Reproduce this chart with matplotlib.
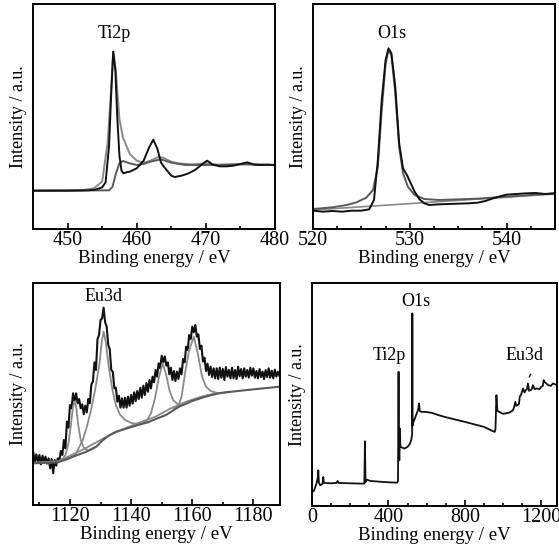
import numpy as np
import matplotlib
matplotlib.use("Agg")
import matplotlib.pyplot as plt
from matplotlib.ticker import MultipleLocator

# ---- Ti2p (intensity in arbitrary units) ----
ti_data_x = [445, 450, 453, 454, 455, 455.5, 456, 456.3, 456.6, 456.9, 457.2, 457.5, 457.8,
             458.1, 458.5, 459, 460, 461, 461.8, 462.4, 463, 463.5, 464, 465, 465.5, 466.5,
             467.5, 468.5, 469.5, 470.2, 471, 472, 473, 474, 475, 476, 477, 478, 479, 480]
ti_data_y = [115, 115, 116, 118, 125, 140, 250, 400, 532, 480, 330, 220, 175,
             167, 170, 172, 182, 205, 245, 268, 240, 200, 185, 160, 156, 160,
             167, 178, 195, 205, 193, 188, 188, 190, 195, 200, 193, 192, 193, 192]
ti_env_x = [445, 452, 453.8, 455, 455.8, 456.3, 456.6, 457, 457.5, 458, 459, 460, 461, 462,
            463, 463.8, 465, 466, 468, 470, 472, 476, 480]
ti_env_y = [115, 116, 122, 142, 260, 420, 532, 470, 330, 275, 225, 205, 199, 205,
            215, 214, 202, 197, 194, 197, 192, 195, 192]
ti_bg_x = [445, 456, 456.5, 457, 457.5, 458, 459, 460, 461, 462, 463.5, 465, 467, 470, 475, 480]
ti_bg_y = [115, 116, 127, 167, 197, 204, 197, 192, 195, 202, 209, 199, 192, 192, 194, 192]

# ---- O1s ----
o_data_x = [520, 521, 522, 523, 524, 525, 525.8, 526.3, 526.7, 527.1, 527.5, 527.8, 528.1,
            528.5, 528.9, 529.3, 529.7, 530.1, 530.5, 531, 531.5, 532, 533, 534, 535, 536,
            537, 537.8, 538.5, 539.2, 540, 541, 542, 543, 544, 545]
o_data_y = [55, 52, 54, 52, 55, 55, 59, 87, 207, 387, 507, 542, 527,
            427, 257, 182, 162, 137, 112, 89, 77, 72, 74, 75, 76, 77,
            79, 84, 91, 97, 103, 105, 107, 108, 105, 107]
o_env_x = [520, 522, 523.5, 524.5, 525.5, 526.2, 526.7, 527.1, 527.5, 527.8, 528.1, 528.5,
           528.9, 529.3, 529.8, 530.5, 531.5, 533, 535, 537, 539, 541, 543, 545]
o_env_y = [60, 65, 72, 80, 94, 117, 187, 357, 497, 537, 522, 407,
           247, 167, 127, 102, 90, 87, 89, 91, 95, 99, 103, 107]
o_bg_x = [520, 545]
o_bg_y = [57, 105]

# ---- Eu3d ----
eu_data_y = [158, 130, 152, 128, 150, 122, 148, 130, 145, 124,
             140, 110, 138, 95, 135, 118, 140, 130, 162, 150,
             195, 170, 250, 232, 300, 290, 335, 312, 335, 305,
             318, 290, 302, 272, 298, 278, 318, 305, 362, 370,
             428, 405, 498, 510, 555, 560, 592, 548, 535, 480,
             468, 405, 400, 350, 352, 310, 328, 292, 320, 292,
             322, 292, 325, 298, 330, 304, 338, 312, 342, 318,
             352, 322, 358, 330, 366, 340, 375, 350, 385, 368,
             405, 385, 425, 410, 448, 428, 446, 418, 428, 392,
             412, 375, 402, 372, 400, 378, 410, 392, 438, 428,
             475, 465, 510, 498, 535, 518, 540, 505, 512, 468,
             478, 430, 442, 402, 424, 390, 415, 384, 410, 380,
             410, 378, 412, 382, 408, 375, 414, 385, 405, 380,
             412, 380, 405, 378, 415, 386, 408, 380, 410, 385,
             405, 382, 412, 388, 410, 382, 402, 380, 408, 384,
             400, 378, 405, 384, 410, 382, 403, 380, 406, 385, 400, 388]
eu_data_x = np.arange(1108, 1189, 0.5)
eu_bg_x = [1108, 1116, 1121, 1125.4, 1128.6, 1130.8, 1133, 1135.1, 1140.5, 1145.9,
           1151.4, 1155.7, 1160, 1164.3, 1168.6, 1173, 1180, 1188.7]
eu_bg_y = [125, 128, 145, 160, 175, 195, 210, 220, 235, 250,
           270, 295, 312, 325, 335, 340, 347, 355]
eu_bg2_x = [1108, 1116, 1124, 1128, 1132, 1136, 1142, 1148, 1153, 1158, 1163, 1168]
eu_bg2_y = [127, 131, 165, 185, 205, 222, 245, 265, 290, 310, 325, 336]
eu_pa_x = [1117, 1118.5, 1119.5, 1120.3, 1121, 1121.5, 1122, 1122.7, 1123.5, 1124.5, 1126, 1128]
eu_pa_y = [132, 150, 185, 240, 295, 310, 295, 240, 195, 172, 163, 172]
eu_pb_x = [1118, 1120, 1122, 1124.2, 1125.5, 1126.9, 1128.3, 1129.6, 1130.4, 1131, 1131.7,
           1132.6, 1133.9, 1135, 1136.3, 1138, 1140.4, 1143, 1145.8]
eu_pb_y = [133, 140, 155, 195, 235, 285, 350, 420, 490, 520, 490,
           420, 345, 300, 272, 255, 245, 243, 248]
eu_pc_x = [1143, 1145, 1146.5, 1147.8, 1149, 1150.3, 1151.5, 1152.5, 1153.7, 1155.5, 1157]
eu_pc_y = [242, 252, 275, 320, 380, 425, 390, 345, 315, 300, 302]
eu_pd_x = [1154, 1155.5, 1156.5, 1157.8, 1159, 1160.5, 1161.8, 1163.2, 1164.5, 1166, 1168.6, 1172]
eu_pd_y = [290, 300, 325, 405, 465, 505, 455, 385, 355, 342, 335, 340]

# ---- survey ----
sv_x = [0, 10, 17, 25, 30, 33, 36, 43, 55, 59, 62, 68, 100, 128, 134, 140, 200, 260, 274,
        277, 280, 288, 305, 350, 400, 445, 450, 453, 454.5, 456, 457, 458, 460.5, 462, 466,
        475, 483, 500, 513, 520, 524, 525, 526, 528, 530, 540, 548, 556, 560, 564, 571, 592,
        627, 663, 700, 800, 900, 947, 956, 960, 965, 970, 979, 1000, 1034, 1052, 1058, 1064,
        1069, 1074, 1083, 1087, 1095, 1104, 1112, 1118, 1125, 1130, 1136, 1144, 1150, 1156,
        1165, 1174, 1190, 1200, 1208, 1212, 1217, 1226, 1235, 1250, 1261, 1282]
sv_y = [42, 45, 57, 70, 85, 107, 70, 62, 66, 87, 70, 69, 68, 69, 75, 69, 68, 67, 67,
        194, 72, 79, 75, 73, 71, 70, 75, 402, 200, 150, 137, 160, 232, 180, 177,
        174, 172, 177, 187, 200, 215, 577, 240, 247, 250, 265, 277, 290, 307, 285, 282, 282,
        279, 272, 266, 252, 237, 224, 222, 230, 332, 285, 282, 276, 280, 287, 297, 312,
        300, 302, 305, 327, 335, 352, 340, 347, 350, 367, 345, 347, 350, 362,
        350, 352, 350, 357, 360, 377, 372, 367, 362, 360, 367, 362]

ink = "#111111"
fit = "#8a8a8a"
base = "#5a5a5a"

plt.rcParams["font.family"] = ["Liberation Serif", "DejaVu Serif"]
plt.rcParams["font.size"] = 13

fig = plt.figure(figsize=(5.59, 5.54), dpi=100)
W, H = 559, 554


def panel(l, t, r, b):
    ax = fig.add_axes([l / W, 1 - b / H, (r - l) / W, (b - t) / H])
    for s in ax.spines.values():
        s.set_linewidth(1.4)
    ax.set_yticks([])
    ax.tick_params(axis="x", direction="in", length=4, width=1.2, pad=1.5,
                   labelsize=14.5, top=False)
    ax.tick_params(axis="x", which="minor", direction="in", length=2, width=1.2, top=False)
    ax.set_xlabel("Binding energy / eV", fontsize=13.5, labelpad=0)
    ax.set_ylabel("Intensity / a.u.", labelpad=4)
    return ax


ax1 = panel(33, 4, 275, 229)
ax1.plot(ti_env_x, ti_env_y, color=fit, lw=1.4)
ax1.plot(ti_bg_x, ti_bg_y, color=base, lw=1.4)
ax1.plot(ti_data_x, ti_data_y, color=ink, lw=1.4)
ax1.set_xlim(445, 480)
ax1.set_ylim(0, 675)
ax1.xaxis.set_major_locator(MultipleLocator(10))
ax1.xaxis.set_minor_locator(MultipleLocator(5))
ax1.text(456.8, 587, "Ti2p", ha="center", va="center")

ax2 = panel(313, 4, 555, 229)
ax2.plot(o_bg_x, o_bg_y, color=fit, lw=1.2)
ax2.plot(o_env_x, o_env_y, color=base, lw=1.4)
ax2.plot(o_data_x, o_data_y, color=ink, lw=1.4)
ax2.set_xlim(520, 545)
ax2.set_ylim(0, 675)
ax2.xaxis.set_major_locator(MultipleLocator(10))
ax2.xaxis.set_minor_locator(MultipleLocator(2.5))
ax2.text(528.1, 587, "O1s", ha="center", va="center")

ax3 = panel(33, 283, 280, 505)
ax3.plot(eu_data_x, eu_data_y, color=ink, lw=1.5)
for px, py in [(eu_pa_x, eu_pa_y), (eu_pb_x, eu_pb_y), (eu_pc_x, eu_pc_y), (eu_pd_x, eu_pd_y)]:
    ax3.plot(px, py, color=fit, lw=1.3)
ax3.plot(eu_bg2_x, eu_bg2_y, color=fit, lw=1.3)
ax3.plot(eu_bg_x, eu_bg_y, color=base, lw=1.5)
ax3.set_xlim(1107.9, 1188.7)
ax3.set_ylim(0, 666)
ax3.xaxis.set_major_locator(MultipleLocator(20))
ax3.xaxis.set_minor_locator(MultipleLocator(10))
ax3.text(1131, 625, "Eu3d", ha="center", va="center")

ax4 = panel(312, 283, 557, 506)
ax4.plot(sv_x, sv_y, color=ink, lw=1.3)
ax4.set_xlim(0, 1282)
ax4.set_ylim(0, 668)
ax4.xaxis.set_major_locator(MultipleLocator(400))
ax4.xaxis.set_minor_locator(MultipleLocator(100))
ax4.text(406, 452, "Ti2p", ha="center", va="center")
ax4.text(541, 614, "O1s", ha="center", va="center")
ax4.text(1113, 452, "Eu3d", ha="center", va="center")
ax4.annotate("", xy=(1130, 379), xytext=(1151, 402),
             arrowprops=dict(arrowstyle="-", color=ink, lw=1.0))

fig.savefig("out.png", dpi=100)
